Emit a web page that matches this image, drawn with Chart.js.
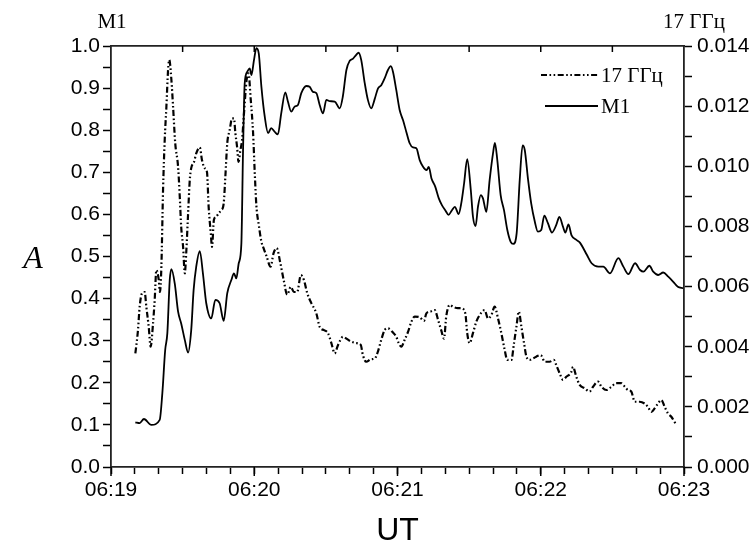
<!DOCTYPE html>
<html>
<head>
<meta charset="utf-8">
<script src="https://cdn.jsdelivr.net/npm/chart.js@4/dist/chart.umd.min.js"></script>
<style>
  html, body { margin: 0; padding: 0; background: #fff; }
  #wrap { width: 750px; height: 551px; }
</style>
</head>
<body>
<div id="wrap"><canvas id="c" width="750" height="551"></canvas></div>
<script>
// time axis: seconds after 06:19:00
const xTickLabels = ['06:19', '06:20', '06:21', '06:22', '06:23'];
const leftUnit = 'M1';
const rightUnit = '17 ГГц';
const seriesNames = ['17 ГГц', 'M1'];

// M1 (left axis)
const m1Times = [
  10.2, 12.0, 13.8, 16.9, 20.4, 21.5, 22.7, 23.6, 24.6, 25.3,
  26.7, 28.1, 29.4, 30.9, 32.3, 33.6, 34.6, 35.7, 37.2, 38.5,
  39.9, 42.0, 43.7, 45.5, 47.2, 48.7, 50.4, 51.5, 52.5, 53.5,
  54.6, 55.3, 56.0, 57.1, 58.1, 58.8, 59.9, 60.9, 61.9, 63.0,
  64.4, 65.8, 67.1, 68.6, 69.9, 71.3, 73.0, 74.1, 75.5, 76.9,
  78.3, 79.7, 81.8, 83.2, 84.6, 86.0, 87.4, 88.8, 90.2, 91.6,
  93.7, 95.8, 97.1, 98.6, 100.0, 101.4, 102.7, 103.7, 104.8, 106.3,
  107.6, 109.0, 110.5, 111.8, 113.2, 114.6, 116.0, 117.2, 118.1, 119.5,
  120.9, 122.3, 123.7, 125.1, 126.5, 127.9, 129.3, 130.7, 132.1, 133.1,
  134.2, 135.8, 137.3, 138.6, 140.0, 141.4, 142.8, 144.0, 145.6, 146.7,
  147.9, 149.2, 150.7, 151.6, 152.7, 153.7, 154.9, 155.8, 157.2, 158.6,
  160.0, 160.8, 161.8, 163.2, 164.6, 166.0, 167.4, 168.5, 169.9, 171.2,
  172.4, 173.3, 174.7, 176.0, 177.5, 178.8, 180.2, 181.5, 183.0, 184.7,
  186.5, 187.8, 189.3, 190.3, 191.6, 192.9, 194.8, 196.4, 199.3, 201.3,
  204.1, 206.2, 209.0, 212.5, 214.6, 216.7, 219.5, 221.6, 223.0, 225.5,
  227.1, 229.2, 231.3, 233.4, 235.5, 237.4, 239.6
];
const m1Values = [
  0.106, 0.104, 0.114, 0.100, 0.112, 0.175, 0.278, 0.318, 0.444, 0.470,
  0.436, 0.369, 0.341, 0.302, 0.272, 0.325, 0.420, 0.476, 0.513, 0.460,
  0.389, 0.353, 0.397, 0.389, 0.347, 0.413, 0.444, 0.460, 0.448, 0.484,
  0.530, 0.750, 0.911, 0.939, 0.947, 0.931, 0.967, 0.995, 0.982, 0.903,
  0.832, 0.793, 0.805, 0.796, 0.790, 0.840, 0.890, 0.868, 0.844, 0.856,
  0.860, 0.888, 0.905, 0.903, 0.891, 0.888, 0.860, 0.840, 0.872, 0.869,
  0.868, 0.852, 0.880, 0.943, 0.965, 0.970, 0.979, 0.984, 0.967, 0.911,
  0.872, 0.852, 0.875, 0.899, 0.907, 0.923, 0.943, 0.952, 0.939, 0.895,
  0.848, 0.824, 0.796, 0.769, 0.759, 0.757, 0.729, 0.713, 0.705, 0.713,
  0.686, 0.666, 0.638, 0.622, 0.610, 0.599, 0.610, 0.618, 0.601, 0.626,
  0.674, 0.731, 0.658, 0.595, 0.572, 0.618, 0.646, 0.638, 0.606, 0.682,
  0.745, 0.770, 0.729, 0.646, 0.610, 0.563, 0.535, 0.530, 0.555, 0.682,
  0.764, 0.753, 0.682, 0.626, 0.583, 0.559, 0.563, 0.597, 0.579, 0.557,
  0.575, 0.594, 0.571, 0.557, 0.576, 0.550, 0.540, 0.533, 0.504, 0.484,
  0.476, 0.476, 0.460, 0.496, 0.476, 0.458, 0.484, 0.468, 0.464, 0.478,
  0.464, 0.456, 0.462, 0.452, 0.440, 0.428, 0.425
];

// 17 GHz (right axis)
const ghzTimes = [
  10.2, 11.3, 12.0, 13.0, 14.1, 14.8, 15.8, 16.6, 17.6, 18.3,
  19.0, 20.0, 20.5, 21.1, 21.8, 22.5, 23.2, 23.9, 24.4, 25.3,
  26.0, 26.9, 28.1, 28.8, 29.4, 30.2, 30.9, 31.5, 32.3, 33.0,
  33.6, 34.8, 35.7, 37.2, 38.1, 39.2, 40.2, 40.9, 41.8, 42.3,
  43.1, 44.1, 45.1, 46.2, 47.2, 47.9, 48.7, 49.7, 50.7, 51.5,
  52.1, 52.8, 53.4, 54.2, 54.9, 55.7, 56.8, 57.6, 58.5, 59.5,
  60.2, 60.9, 61.9, 63.0, 63.9, 65.2, 66.8, 68.1, 69.4, 70.9,
  72.3, 73.8, 75.3, 76.6, 78.0, 79.5, 80.8, 82.2, 83.9, 86.0,
  87.4, 89.2, 90.9, 92.3, 93.7, 95.1, 97.2, 98.6, 100.6, 102.7,
  104.6, 105.5, 106.9, 108.8, 110.5, 111.8, 113.2, 114.6, 116.0, 118.1,
  119.5, 120.5, 121.6, 123.0, 124.4, 125.8, 127.2, 129.3, 131.1, 132.1,
  133.9, 135.6, 137.0, 138.3, 139.5, 140.4, 141.9, 143.2, 145.3, 146.7,
  148.4, 149.2, 150.2, 151.6, 153.0, 154.9, 156.5, 157.9, 159.3, 160.7,
  162.1, 163.5, 164.9, 166.0, 167.7, 168.8, 169.8, 170.8, 171.9, 173.0,
  174.0, 175.4, 176.8, 178.1, 180.0, 181.7, 183.7, 185.5, 186.5, 187.9,
  189.3, 190.7, 192.8, 193.5, 194.9, 196.3, 198.4, 200.5, 201.9, 204.0,
  205.4, 207.5, 209.6, 211.6, 213.7, 215.2, 216.5, 217.9, 219.4, 221.4,
  223.5, 224.9, 226.3, 227.7, 229.1, 230.5, 231.9, 233.3, 234.7, 236.4
];
const ghzValues = [
  0.00378, 0.00455, 0.00533, 0.00578, 0.00582, 0.00533, 0.00466, 0.00400, 0.00477, 0.00556,
  0.00655, 0.00622, 0.00582, 0.00666, 0.00921, 0.01088, 0.01198, 0.01320, 0.01354, 0.01287,
  0.01198, 0.01077, 0.00998, 0.00899, 0.00799, 0.00732, 0.00644, 0.00711, 0.00844, 0.00955,
  0.00994, 0.01015, 0.01043, 0.01063, 0.01021, 0.00994, 0.00981, 0.00865, 0.00777, 0.00732,
  0.00822, 0.00833, 0.00844, 0.00854, 0.00876, 0.00966, 0.01077, 0.01120, 0.01159, 0.01159,
  0.01110, 0.01065, 0.01015, 0.01054, 0.01088, 0.01176, 0.01287, 0.01309, 0.01225, 0.01113,
  0.00980, 0.00868, 0.00805, 0.00749, 0.00728, 0.00700, 0.00666, 0.00711, 0.00728, 0.00679,
  0.00623, 0.00573, 0.00599, 0.00582, 0.00582, 0.00638, 0.00622, 0.00578, 0.00545, 0.00511,
  0.00466, 0.00455, 0.00445, 0.00412, 0.00378, 0.00406, 0.00433, 0.00427, 0.00417, 0.00412,
  0.00406, 0.00372, 0.00350, 0.00358, 0.00361, 0.00384, 0.00423, 0.00455, 0.00461, 0.00447,
  0.00433, 0.00412, 0.00400, 0.00423, 0.00449, 0.00483, 0.00500, 0.00498, 0.00486, 0.00511,
  0.00517, 0.00522, 0.00489, 0.00455, 0.00427, 0.00500, 0.00539, 0.00533, 0.00528, 0.00528,
  0.00511, 0.00445, 0.00412, 0.00445, 0.00483, 0.00511, 0.00522, 0.00494, 0.00505, 0.00533,
  0.00494, 0.00445, 0.00389, 0.00356, 0.00356, 0.00412, 0.00466, 0.00517, 0.00466, 0.00412,
  0.00367, 0.00356, 0.00361, 0.00367, 0.00372, 0.00350, 0.00350, 0.00356, 0.00339, 0.00312,
  0.00290, 0.00300, 0.00316, 0.00333, 0.00300, 0.00273, 0.00262, 0.00251, 0.00267, 0.00284,
  0.00267, 0.00256, 0.00267, 0.00279, 0.00279, 0.00267, 0.00256, 0.00251, 0.00217, 0.00217,
  0.00211, 0.00200, 0.00183, 0.00195, 0.00211, 0.00223, 0.00200, 0.00178, 0.00167, 0.00145
];

const dashDotDot = [6, 2.5, 1.6, 2.5, 1.6, 2.5];
const SANS = '"Liberation Sans", Arial, sans-serif';
const SERIF = '"Liberation Serif", "Times New Roman", serif';

const annot = {
  id: 'annot',
  afterDraw(chart) {
    const { ctx, chartArea: ca, scales } = chart;
    ctx.save();
    ctx.strokeStyle = '#000';
    ctx.lineWidth = 1.5;
    // inward ticks on the top axis every 30 s
    for (let t = 30; t < 240; t += 30) {
      const x = scales.x.getPixelForValue(t);
      ctx.beginPath();
      ctx.moveTo(x, ca.top);
      ctx.lineTo(x, ca.top + 6);
      ctx.stroke();
    }
    // slightly longer bottom ticks at labelled minutes
    for (let t = 0; t <= 240; t += 60) {
      const x = scales.x.getPixelForValue(t);
      ctx.beginPath();
      ctx.moveTo(x, ca.bottom);
      ctx.lineTo(x, ca.bottom + 9);
      ctx.stroke();
    }
    ctx.fillStyle = '#000';
    ctx.font = '21px ' + SERIF;
    ctx.textAlign = 'center';
    ctx.textBaseline = 'alphabetic';
    ctx.fillText(leftUnit, 112, 28);
    ctx.fillText(rightUnit, 694, 28);
    ctx.font = 'italic 32px ' + SERIF;
    ctx.fillText('A', 33, 268);
    // legend
    const ds = chart.data.datasets;
    const rows = [75, 106];
    ds.forEach((d, i) => {
      ctx.strokeStyle = d.borderColor;
      ctx.lineWidth = d.borderWidth;
      ctx.setLineDash(d.borderDash || []);
      ctx.beginPath();
      ctx.moveTo(i === 0 ? 541 : 545, rows[i]);
      ctx.lineTo(598, rows[i]);
      ctx.stroke();
      ctx.setLineDash([]);
      ctx.font = '21px ' + SERIF;
      ctx.textAlign = 'left';
      ctx.textBaseline = 'middle';
      ctx.fillText(d.label, 601, rows[i] + 1);
    });
    ctx.restore();
  }
};

new Chart(document.getElementById('c'), {
  type: 'line',
  data: {
    datasets: [
      {
        label: seriesNames[0],
        data: ghzTimes.map((t, i) => ({ x: t, y: ghzValues[i] })),
        yAxisID: 'y2',
        borderColor: '#000',
        borderWidth: 2.2,
        borderDash: dashDotDot,
        pointRadius: 0,
        cubicInterpolationMode: 'monotone',
        fill: false
      },
      {
        label: seriesNames[1],
        data: m1Times.map((t, i) => ({ x: t, y: m1Values[i] })),
        yAxisID: 'y',
        borderColor: '#000',
        borderWidth: 1.8,
        pointRadius: 0,
        cubicInterpolationMode: 'monotone',
        fill: false
      }
    ]
  },
  options: {
    responsive: false,
    animation: false,
    devicePixelRatio: 1,
    layout: { padding: 0 },
    plugins: { legend: { display: false }, tooltip: { enabled: false } },
    scales: {
      x: {
        type: 'linear', position: 'bottom', min: 0, max: 240,
        afterFit(s) { s.height = 84; },
        border: { display: true, color: '#222', width: 1.8 },
        grid: { drawOnChartArea: false, drawTicks: true, tickLength: 7, tickColor: '#000', tickWidth: 1.5 },
        ticks: {
          stepSize: 10, autoSkip: false, maxRotation: 0, padding: 4,
          color: '#000', font: { family: SANS, size: 21 },
          callback: (v) => (v % 60 === 0 ? xTickLabels[v / 60] : '')
        },
        title: { display: true, text: 'UT', color: '#000', font: { family: SANS, size: 32 }, padding: { top: 0, bottom: 1 } }
      },
      x2: {
        type: 'linear', position: 'top', min: 0, max: 240,
        afterFit(s) { s.height = 46; },
        border: { display: true, color: '#222', width: 1.8 },
        grid: { drawOnChartArea: false, drawTicks: false },
        ticks: { display: false }
      },
      y: {
        type: 'linear', position: 'left', min: 0, max: 1.0,
        afterFit(s) { s.width = 111; },
        border: { display: true, color: '#222', width: 1.8 },
        grid: { drawOnChartArea: false, tickLength: 8, tickColor: '#000', tickWidth: 1.5 },
        ticks: {
          stepSize: 0.05, autoSkip: false, padding: 3,
          color: '#000', font: { family: SANS, size: 21 },
          callback: (v) => (Math.abs(v * 10 - Math.round(v * 10)) < 1e-6 ? v.toFixed(1) : '')
        }
      },
      y2: {
        type: 'linear', position: 'right', min: 0, max: 0.014,
        afterFit(s) { s.width = 66; },
        border: { display: true, color: '#222', width: 1.8 },
        grid: { drawOnChartArea: false, tickLength: 8, tickColor: '#000', tickWidth: 1.5 },
        ticks: {
          stepSize: 0.001, autoSkip: false, padding: 5,
          color: '#000', font: { family: SANS, size: 21 },
          callback: (v) => (Math.abs(v * 500 - Math.round(v * 500)) < 1e-6 ? v.toFixed(3) : '')
        }
      }
    }
  },
  plugins: [annot]
});
</script>
</body>
</html>
